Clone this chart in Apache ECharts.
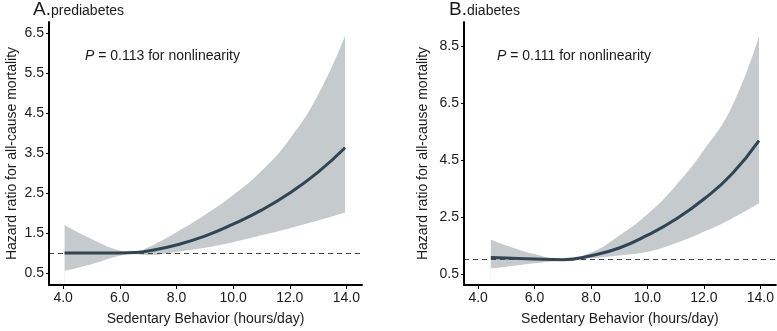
<!DOCTYPE html>
<html>
<head>
<meta charset="utf-8">
<script src="https://cdn.jsdelivr.net/npm/echarts@6/dist/echarts.min.js"></script>
<style>
  html, body { margin: 0; padding: 0; background: #fff; }
  #chart { width: 777px; height: 331px; }
</style>
</head>
<body>
<div id="chart"></div>
<script>
// Panel A: prediabetes
const xA = [4.05, 5, 6, 6.5, 7, 8, 9, 10, 11, 12, 13, 13.95];
const hrA = [1.0, 1.0, 1.0, 1.01, 1.05, 1.2, 1.42, 1.72, 2.07, 2.5, 3.02, 3.63];
const upperA = [1.70, 1.35, 1.06, 1.01, 1.14, 1.52, 1.95, 2.45, 3.05, 3.85, 4.95, 6.42];
const lowerA = [0.55, 0.72, 0.93, 0.97, 0.95, 1.03, 1.13, 1.27, 1.44, 1.62, 1.81, 2.01];

// Panel B: diabetes
const xB = [4.45, 5, 6, 7, 8, 9, 10, 11, 12, 13, 13.95];
const hrB = [1.08, 1.06, 1.02, 1.0, 1.14, 1.41, 1.86, 2.42, 3.13, 4.02, 5.18];
const upperB = [1.71, 1.50, 1.2, 1.03, 1.25, 1.85, 2.6, 3.6, 4.85, 6.4, 8.86];
const lowerB = [0.69, 0.75, 0.87, 0.97, 1.05, 1.15, 1.28, 1.58, 1.98, 2.45, 2.98];

const xTicks = [4, 6, 8, 10, 12, 14];
const yTicksA = [0.5, 1.5, 2.5, 3.5, 4.5, 5.5, 6.5];
const yTicksB = [0.5, 2.5, 4.5, 6.5, 8.5];

const lineColor = '#2f4553';
const bandColor = '#c5cacd';
const font = 'Liberation Sans, Arial, sans-serif';
const textColor = '#1a1a1a';

function pairs(xs, ys) {
  return xs.map((x, i) => [x, ys[i]]);
}

function xAxisFor(gridIndex) {
  return {
    type: 'value', gridIndex: gridIndex, min: 3.5, max: 14.55, z: 10,
    name: 'Sedentary Behavior (hours/day)', nameLocation: 'middle', nameGap: 27,
    nameTextStyle: { fontFamily: font, fontSize: 14, color: textColor },
    axisLine: { show: true, onZero: false, lineStyle: { color: '#000', width: 2 } },
    axisTick: { show: true, length: 4, customValues: xTicks, lineStyle: { color: '#000' } },
    axisLabel: { customValues: xTicks, margin: 6, fontFamily: font, fontSize: 14, color: textColor,
      formatter: v => v.toFixed(1) },
    splitLine: { show: false }
  };
}

function yAxisFor(gridIndex, min, max, ticks, gap) {
  return {
    type: 'value', gridIndex: gridIndex, min: min, max: max, z: 10,
    name: 'Hazard ratio for all-cause mortality', nameLocation: 'middle', nameGap: gap,
    nameTextStyle: { fontFamily: font, fontSize: 14, color: textColor },
    axisLine: { show: true, onZero: false, lineStyle: { color: '#000', width: 2 } },
    axisTick: { show: true, length: 3, customValues: ticks, lineStyle: { color: '#000' } },
    axisLabel: { customValues: ticks, margin: 5, fontFamily: font, fontSize: 14, color: textColor,
      formatter: v => v.toFixed(1) },
    splitLine: { show: false }
  };
}

// confidence band: grey area under the upper bound, masked in white under the lower bound
function bandSeries(idx, xs, up, lo) {
  const common = {
    type: 'line', xAxisIndex: idx, yAxisIndex: idx, silent: true,
    smooth: true, showSymbol: false, lineStyle: { opacity: 0 }
  };
  return [
    Object.assign({}, common, {
      z: 1, data: pairs(xs, up),
      areaStyle: { color: bandColor, opacity: 1, origin: 'start' }
    }),
    Object.assign({}, common, {
      z: 2, data: pairs(xs, lo),
      areaStyle: { color: '#fff', opacity: 1, origin: 'start' }
    })
  ];
}

function curveSeries(idx, xs, ys) {
  return {
    type: 'line', xAxisIndex: idx, yAxisIndex: idx, z: 3,
    data: pairs(xs, ys), smooth: true, showSymbol: false,
    lineStyle: { color: lineColor, width: 3 },
    markLine: {
      silent: true, symbol: 'none', label: { show: false },
      lineStyle: { color: '#444', type: [5, 4], width: 1 },
      data: [{ yAxis: 1 }]
    }
  };
}

function pText(x, pval) {
  return {
    type: 'text', left: x, top: 49,
    style: {
      text: '{i|P} = ' + pval + ' for nonlinearity',
      font: '14px ' + font, fill: textColor,
      rich: { i: { fontStyle: 'italic', fontSize: 14, fontFamily: font, fill: textColor } }
    }
  };
}

function titleText(x, letter, word) {
  return {
    type: 'text', left: x, top: 0,
    style: {
      text: '{a|' + letter + '.}{b|' + word + '}',
      rich: {
        a: { fontSize: 19, fontFamily: font, fill: textColor },
        b: { fontSize: 14, fontFamily: font, fill: textColor, padding: [4, 0, 0, 0] }
      }
    }
  };
}

const chart = echarts.init(document.getElementById('chart'));
chart.setOption({
  animation: false,
  grid: [
    { left: 49, right: 415, top: 22, bottom: 42 },
    { left: 464, right: 1, top: 22, bottom: 42 }
  ],
  xAxis: [xAxisFor(0), xAxisFor(1)],
  yAxis: [
    yAxisFor(0, 0.2, 6.77, yTicksA, 30),
    yAxisFor(1, 0.11, 9.35, yTicksB, 34)
  ],
  series: [
    ...bandSeries(0, xA, upperA, lowerA),
    curveSeries(0, xA, hrA),
    ...bandSeries(1, xB, upperB, lowerB),
    curveSeries(1, xB, hrB)
  ],
  graphic: [
    titleText(33, 'A', 'prediabetes'),
    titleText(449, 'B', 'diabetes'),
    pText(85, '0.113'),
    pText(497, '0.111')
  ]
});
</script>
</body>
</html>
